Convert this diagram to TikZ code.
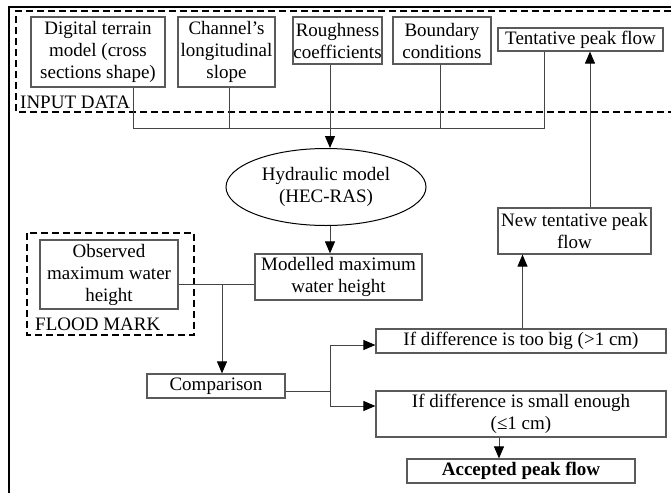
\documentclass[tikz,border=0pt]{standalone}
\usepackage{fontspec}
\setmainfont{Liberation Serif}
\usetikzlibrary{arrows.meta,shapes.geometric}
\definecolor{boxgray}{HTML}{5A5A5A}
\definecolor{linegray}{HTML}{444444}
\begin{document}
\begin{tikzpicture}[x=1pt,y=-1pt,
    box/.style={draw=boxgray, line width=1.2pt, align=center, inner sep=0pt,
      font=\fontsize{19}{22}\selectfont},
    link/.style={draw=linegray, line width=1pt},
    arr/.style={link, -{Triangle[length=12pt,width=10pt,color=black]}},
    group/.style={draw=black, line width=1.5pt, dash pattern=on 7pt off 4pt},
    grouplabel/.style={anchor=base west, inner sep=0pt, font=\fontsize{19}{22}\selectfont}]
  \useasboundingbox (0,0) rectangle (671,493);

  % outer frame and dashed groups
  \draw[line width=1.5pt] (9,493) |- (671,7);
  \draw[group] (671,11) -| (16,112) -- (671,112);
  \node[grouplabel] (inlabel) at (20,108) {INPUT DATA};
  \draw[group] (27,233) rectangle (194,335);
  \node[grouplabel] (fmlabel) at (35,330) {FLOOD MARK};

  % input data
  \node[box, minimum width=134pt, minimum height=70pt] (dtm) at (98,52) {Digital terrain\\model (cross\\sections shape)};
  \node[box, minimum width=97pt, minimum height=70pt] (slope) at (226.5,52) {Channel’s\\longitudinal\\slope};
  \node[box, minimum width=89pt, minimum height=47pt] (rough) at (337.5,40.5) {Roughness\\coefficients};
  \node[box, minimum width=98pt, minimum height=47pt] (bound) at (442,40.5) {Boundary\\conditions};
  \node[box, minimum width=165pt, minimum height=23pt] (tent) at (580.5,39.5) {Tentative peak flow};

  % model
  \node[box, draw=black, line width=1pt, ellipse, minimum width=200pt, minimum height=77pt] (hyd) at (326,187) {Hydraulic model\\(HEC-RAS)};
  \node[box, minimum width=167pt, minimum height=46pt] (model) at (338.5,277) {Modelled maximum\\water height};
  \node[box, minimum width=138pt, minimum height=69pt] (obs) at (109,274.5) {Observed\\maximum water\\height};
  \node[box, minimum width=138pt, minimum height=24pt] (comp) at (216,386) {Comparison};

  % decision
  \node[box, minimum width=153pt, minimum height=46pt] (new) at (574.5,231) {New tentative peak\\flow};
  \node[box, minimum width=290pt, minimum height=24pt] (big) at (521,341) {If difference is too big (>1 cm)};
  \node[box, minimum width=290pt, minimum height=46pt] (small) at (521,414) {If difference is small enough\\(≤1 cm)};
  \node[box, minimum width=228pt, minimum height=24pt] (accepted) at (521,471) {\textbf{Accepted peak flow}};

  % junctions
  \coordinate (jin) at (330,128);
  \coordinate (jfl) at (222,284);
  \coordinate (jcmp) at (330,391);
  \coordinate (jbig) at (330,345);
  \coordinate (jsmall) at (330,406);

  % connectors
  \draw[link] ([xshift=35pt]dtm.south) |- (jin);
  \draw[link] ([xshift=2.5pt]slope.south) |- (jin);
  \draw[link] ([xshift=-7.5pt]rough.south) -- (jin);
  \draw[link] ([xshift=-2pt]bound.south) |- (jin);
  \draw[link] ([xshift=-36.5pt]tent.south) |- (jin);
  \draw[arr] (jin) -- (jin |- hyd.north);
  \draw[arr] (jin |- hyd.south) -- (jin |- model.north);
  \draw[link] (obs.east |- jfl) -- (model.west |- jfl);
  \draw[arr] (jfl) -- (jfl |- comp.north);
  \draw[link] (comp.east |- jcmp) -- (jcmp);
  \draw[link] (jbig) -- (jsmall);
  \draw[arr] (jbig) -- (big.west |- jbig);
  \draw[arr] (jsmall) -- (small.west |- jsmall);
  \draw[arr] ([xshift=1.5pt]big.north) -- ([xshift=1.5pt]big.north |- new.south);
  \draw[arr] ([xshift=15.5pt]new.north) -- ([xshift=15.5pt]new.north |- tent.south);
  \draw[arr] ([xshift=-22pt]small.south) -- ([xshift=-22pt]small.south |- accepted.north);
\end{tikzpicture}
\end{document}
